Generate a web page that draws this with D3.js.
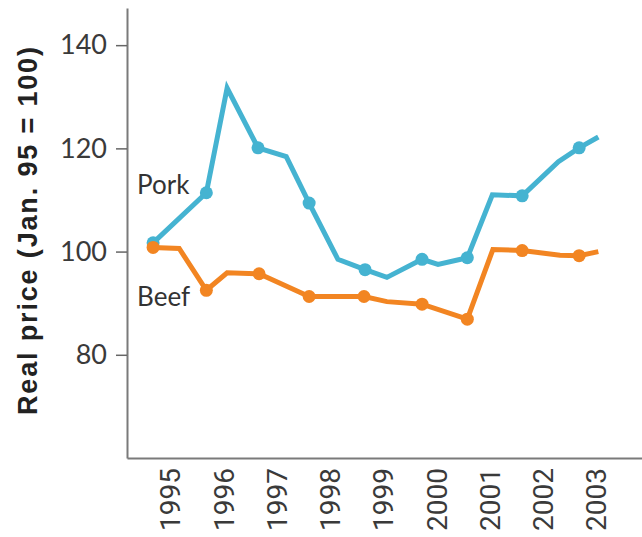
<!DOCTYPE html>
<html>
<head>
<meta charset="utf-8">
<script src="https://cdn.jsdelivr.net/npm/d3@7"></script>
<style>
  body { margin: 0; background: #fff; }
</style>
</head>
<body>
<div id="wrapper"></div>
<script>
// years shown on the x axis
const yearLabels = [1995, 1996, 1997, 1998, 1999, 2000, 2001, 2002, 2003]
const yTicks = [80, 100, 120, 140]

// pork: time (fractional year), price index, whether a dot is drawn
const porkTime = [1995, 1996, 1996.39, 1996.97, 1997.5, 1997.93, 1998.47, 1998.98, 1999.39,
  2000.05, 2000.35, 2000.9, 2001.37, 2001.93, 2002.61, 2003, 2003.36]
const porkValue = [101.7, 111.4, 131.7, 120.1, 118.4, 109.4, 98.5, 96.5, 95.0,
  98.5, 97.5, 98.8, 111.0, 110.8, 117.4, 120.1, 122.2]
const porkDot = [1, 1, 0, 1, 0, 1, 0, 1, 0, 1, 0, 1, 0, 1, 0, 1, 0]

// beef
const beefTime = [1995, 1995.49, 1996, 1996.39, 1996.99, 1997.93, 1998.96, 1999.39,
  2000.05, 2000.9, 2001.38, 2001.93, 2002.64, 2003, 2003.36]
const beefValue = [100.8, 100.6, 92.5, 95.9, 95.7, 91.3, 91.3, 90.3,
  89.8, 86.9, 100.4, 100.2, 99.3, 99.2, 100.0]
const beefDot = [1, 0, 1, 0, 1, 1, 1, 0, 1, 1, 0, 1, 0, 1, 0]

const porkColor = "#45b3d1"
const beefColor = "#f28522"

let dimensions = {
  width: 642,
  height: 537,
  margin: {
    top: 8,
    right: 0,
    bottom: 79,
    left: 127
  }
}
dimensions.boundedWidth = dimensions.width
    - dimensions.margin.right
    - dimensions.margin.left
dimensions.boundedHeight = dimensions.height
    - dimensions.margin.top
    - dimensions.margin.bottom

const svg = d3.select("#wrapper")
  .append("svg")
    .attr("width", dimensions.width)
    .attr("height", dimensions.height)

const bounds = svg.append("g")
    .attr("transform", `translate(${dimensions.margin.left},${dimensions.margin.top})`)

const xScale = d3.scaleLinear()
    .domain([1994.51, 2004.18])
    .range([0, dimensions.boundedWidth])

const yScale = d3.scaleLinear()
    .domain([60, 147.2])
    .range([dimensions.boundedHeight, 0])

// axes
const yAxisGenerator = d3.axisLeft(yScale)
    .tickValues(yTicks)
    .tickSize(11)
    .tickSizeOuter(0)
    .tickPadding(9)
const yAxis = bounds.append("g").call(yAxisGenerator)
yAxis.select(".domain").attr("stroke", "#7a7a7a").attr("stroke-width", 2)
yAxis.selectAll(".tick line").attr("stroke", "#666").attr("stroke-width", 1.5)
yAxis.selectAll(".tick text")
    .attr("fill", "#3a3a3a")
    .style("font-family", "Lato, 'Open Sans', sans-serif")
    .style("font-size", "27px")

const xAxisGenerator = d3.axisBottom(xScale)
    .tickValues(yearLabels)
    .tickFormat(d3.format("d"))
    .tickSize(0)
    .tickSizeOuter(0)
const xAxis = bounds.append("g")
    .attr("transform", `translate(0,${dimensions.boundedHeight})`)
    .call(xAxisGenerator)
xAxis.select(".domain").attr("stroke", "#7a7a7a").attr("stroke-width", 2)
xAxis.selectAll(".tick text")
    .attr("x", 0)
    .attr("y", 0)
    .attr("dy", "0.35em")
    .attr("transform", "translate(17,10) rotate(-90)")
    .attr("text-anchor", "end")
    .attr("fill", "#3a3a3a")
    .style("font-family", "Roboto, sans-serif")
    .style("font-size", "28px")

// lines and dots
const series = [
  { name: "Pork", time: porkTime, value: porkValue, dot: porkDot, color: porkColor },
  { name: "Beef", time: beefTime, value: beefValue, dot: beefDot, color: beefColor }
]

const lineGenerator = d3.line()
    .x(d => xScale(d.t))
    .y(d => yScale(d.v))

series.forEach(s => {
  const pts = s.time.map((t, i) => ({ t: t, v: s.value[i], dot: s.dot[i] }))
  bounds.append("path")
      .attr("d", lineGenerator(pts))
      .attr("fill", "none")
      .attr("stroke", s.color)
      .attr("stroke-width", 5)
      .attr("stroke-linejoin", "miter")
  bounds.selectAll(null)
    .data(pts.filter(d => d.dot))
    .join("circle")
      .attr("cx", d => xScale(d.t))
      .attr("cy", d => yScale(d.v))
      .attr("r", 6.5)
      .attr("fill", s.color)
})

// series labels
bounds.append("text")
    .attr("x", xScale(1995) - 16)
    .attr("y", yScale(111.2))
    .text("Pork")
    .attr("fill", "#333")
    .style("font-family", "Lato, sans-serif")
    .style("font-size", "26px")
bounds.append("text")
    .attr("x", xScale(1995) - 16)
    .attr("y", yScale(89.4))
    .text("Beef")
    .attr("fill", "#333")
    .style("font-family", "Lato, sans-serif")
    .style("font-size", "26px")

// y axis title
svg.append("text")
    .attr("transform", "translate(37,231) rotate(-90)")
    .attr("text-anchor", "middle")
    .attr("textLength", 368)
    .attr("lengthAdjust", "spacing")
    .attr("fill", "#222")
    .style("font-family", "'Liberation Sans', Arial, sans-serif")
    .style("font-weight", "bold")
    .style("font-size", "27px")
    .text("Real price (Jan. 95 = 100)")
</script>
</body>
</html>
